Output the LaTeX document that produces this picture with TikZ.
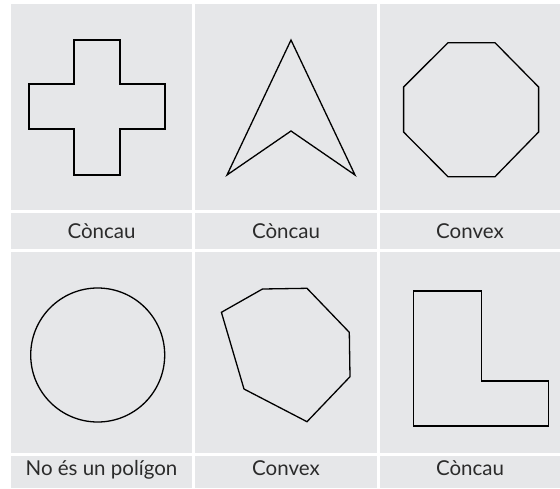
\documentclass[tikz,border=0pt]{standalone}
\usepackage{fontspec}
\setmainfont{Lato}
\usepackage{xcolor}
\usepackage{tikz}

\definecolor{cellgray}{HTML}{E6E7E9}
\definecolor{inkgray}{HTML}{2B2B2B}

\begin{document}
\begin{tikzpicture}[x=1pt, y=-1pt,
  cell/.style={fill=cellgray, inner sep=0pt, minimum width=181.5pt,
               anchor=north west},
  picbox/.style={cell, minimum height=206.5pt},
  labbox/.style={cell, minimum height=36pt},
  txt/.style={anchor=base, text=inkgray, font=\fontsize{20.5}{23}\selectfont},
  outline/.style={draw=black, line width=1.3pt, line join=miter}]

\useasboundingbox (0,0) rectangle (560,488);

% top row
\node[picbox] (p1) at (10.7,3.5) {};
\node[picbox] (p2) at (195.2,3.5) {};
\node[picbox] (p3) at (379.5,3.5) {};
\node[labbox] (l1) at (10.7,212.7) {};
\node[labbox] (l2) at (195.2,212.7) {};
\node[labbox] (l3) at (379.5,212.7) {};

% bottom row
\node[picbox, minimum height=201.4pt] (p4) at (10.7,251.3) {};
\node[picbox, minimum height=201.4pt] (p5) at (195.2,251.3) {};
\node[picbox, minimum height=201.4pt] (p6) at (379.5,251.3) {};
\node[labbox, minimum height=32.7pt] (l4) at (10.7,455.3) {};
\node[labbox, minimum height=32.7pt] (l5) at (195.2,455.3) {};
\node[labbox, minimum height=32.7pt] (l6) at (379.5,455.3) {};

% labels
\node[txt] (t1) at (101.5,238.3) {Còncau};
\node[txt] (t2) at (286,238.3) {Còncau};
\node[txt] (t3) at (470,238.3) {Convex};
\node[txt] (t4) at (101.5,475) {No és un polígon};
\node[txt] (t5) at (286,475) {Convex};
\node[txt] (t6) at (470,475) {Còncau};

% shapes
\draw[outline] (74,40) -- (120,40) -- (120,84) -- (165,84) -- (165,129)
  -- (120,129) -- (120,175) -- (74,175) -- (74,129) -- (29,129)
  -- (29,84) -- (74,84) -- cycle;
\draw[outline] (291,40) -- (355,175) -- (291,131) -- (227,175) -- cycle;
\draw[outline] (448,42.7) -- (495,42.7) -- (538.6,87) -- (538.6,132)
  -- (495,176.7) -- (448,176.7) -- (403.6,132) -- (403.6,87) -- cycle;
\draw[outline] (97.7,355) circle (67);
\draw[outline] (221.4,312.3) -- (262.5,289) -- (307,288.3) -- (349.3,332.3)
  -- (350,376.7) -- (307,421.7) -- (244,389) -- cycle;
\draw[outline] (413.6,291) -- (481.4,291) -- (481.4,381) -- (548.2,381)
  -- (548.2,426) -- (413.6,426) -- cycle;
\end{tikzpicture}
\end{document}
